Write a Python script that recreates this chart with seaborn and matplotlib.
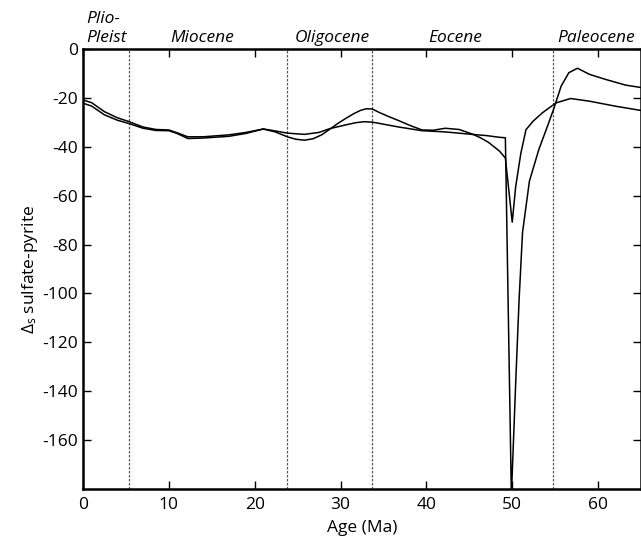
import numpy as np
import pandas as pd
import matplotlib
matplotlib.use('Agg')
import matplotlib.pyplot as plt
import matplotlib.transforms as mtransforms
import seaborn as sns

# -----------------------------
# Data
# -----------------------------
age_a = [0, 1, 2.5, 4, 5.3, 7, 8.5, 10, 11, 12.2, 14, 17, 19, 21, 22.4, 23.8,
         24.8, 25.8, 26.8, 27.8, 28.7, 29.7, 30.5, 31.5, 32.3, 33.0, 33.7,
         34.5, 35.6, 36.8, 38.2, 39.5, 40.8, 42.2, 43.8, 45.3, 46.3, 47.2,
         48.5, 49.2, 50.0, 50.4, 51.0, 51.6, 52.4, 53.5, 55.1, 56.8, 59,
         62.1, 65]
val_a = [-20.7, -21.8, -25.5, -28.0, -29.5, -31.8, -32.8, -33.0, -34.2, -35.8,
         -35.8, -35.0, -34.0, -32.6, -33.8, -35.8, -36.8, -37.2, -36.6, -35.0,
         -32.8, -30.3, -28.5, -26.4, -25.0, -24.3, -24.4, -25.8, -27.5, -29.2,
         -31.3, -33.0, -33.1, -32.3, -32.8, -34.6, -36.2, -38.0, -41.6, -44.5,
         -70.8, -56.3, -42.6, -32.9, -29.5, -26.0, -21.9, -20.1, -21.2, -23.3,
         -25.0]

age_b = [0, 1, 2.5, 4, 5.3, 7, 8.5, 10, 11, 12.2, 14, 17, 19, 21, 22.4, 23.8,
         25.8, 27.5, 28.7, 30.5, 31.8, 32.8, 33.7, 34.5, 36.8, 39.5, 42.2,
         45.3, 47, 48.5, 49.2, 49.9, 50.4, 50.8, 51.2, 52.0, 53.1, 54.1, 54.8,
         55.7, 56.6, 57.6, 59, 60.9, 63.2, 65]
val_b = [-22.0, -23.2, -26.8, -29.0, -30.3, -32.3, -33.2, -33.3, -34.5, -36.5,
         -36.3, -35.6, -34.4, -32.6, -33.4, -34.3, -34.8, -34.0, -32.5, -31.0,
         -30.0, -29.6, -29.8, -30.3, -31.8, -33.3, -33.8, -34.8, -35.3, -36.0,
         -36.2, -183.0, -137.0, -102.5, -75.0, -54.0, -41.0, -31.5, -24.7,
         -15.0, -9.5, -7.7, -10.2, -12.3, -14.6, -15.6]

boundaries = [5.3, 23.8, 33.7, 54.8]
epochs = ['Plio-\nPleist', 'Miocene', 'Oligocene', 'Eocene', 'Paleocene']
epoch_x = [0.4, 10.2, 24.7, 40.2, 55.3]

df = pd.concat([
    pd.DataFrame({'age': age_a, 'value': val_a, 'run': 'a'}),
    pd.DataFrame({'age': age_b, 'value': val_b, 'run': 'b'}),
], ignore_index=True)

# -----------------------------
# Style
# -----------------------------
sns.set_style('ticks', {'xtick.direction': 'in', 'ytick.direction': 'in'})
plt.rcParams['font.family'] = ['Open Sans', 'DejaVu Sans']
plt.rcParams['axes.unicode_minus'] = False
plt.rcParams['mathtext.default'] = 'regular'
plt.rcParams['text.color'] = 'black'
plt.rcParams['axes.labelcolor'] = 'black'

fs = 12.5
fig = plt.figure(figsize=(6.41, 5.42), dpi=100)
ax = fig.add_axes([0.1295, 0.0987, 0.8705, 0.81])

sns.lineplot(data=df, x='age', y='value', units='run', estimator=None,
             sort=False, color='black', linewidth=1.1, ax=ax)

for b in boundaries:
    ax.axvline(b, color='0.35', linestyle=(0, (2, 1.2)), linewidth=0.9, zorder=0)

ax.set_xlim(0, 65)
ax.set_ylim(-180, 0)
ax.set_xticks(range(0, 61, 10))
ax.set_yticks(range(-160, 1, 20))
ax.tick_params(axis='both', which='both', direction='in', top=True, right=True,
               length=6, width=1, labelsize=fs, colors='black')
ax.tick_params(axis='x', pad=6)
for s in ['left', 'bottom', 'top', 'right']:
    ax.spines[s].set_visible(True)
    ax.spines[s].set_linewidth(1.8)
    ax.spines[s].set_color('black')

ax.set_xlabel('Age (Ma)', fontsize=fs, labelpad=5)
ax.set_ylabel('$\\Delta_s$ sulfate-pyrite', fontsize=fs, labelpad=2)

trans = mtransforms.blended_transform_factory(ax.transData, ax.transAxes)
for name, x in zip(epochs, epoch_x):
    ax.text(x, 1.0165, name, transform=trans, ha='left', va='baseline',
            fontsize=fs, style='italic', linespacing=1.3, clip_on=False)

fig.savefig('out.png', dpi=100)
